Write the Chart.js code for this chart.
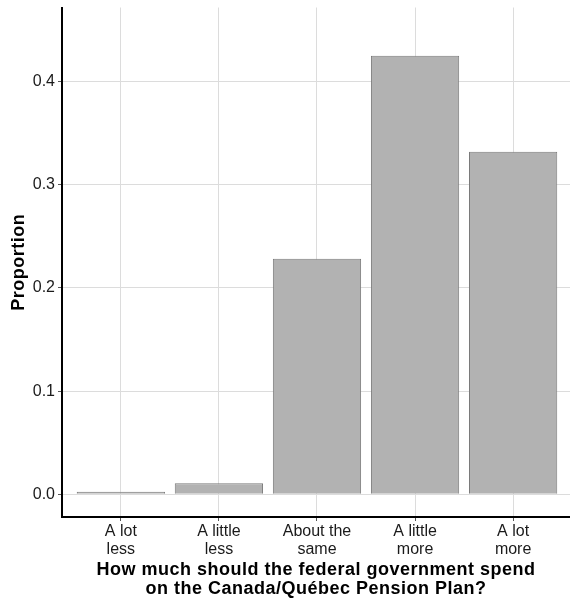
<!DOCTYPE html>
<html>
<head>
<meta charset="utf-8">
<script src="https://cdn.jsdelivr.net/npm/chart.js@4/dist/chart.umd.min.js"></script>
<style>
html,body{margin:0;padding:0;background:#fff;}
#wrap{width:570px;height:603px;position:relative;}
</style>
</head>
<body>
<div id="wrap"><canvas id="c" width="570" height="603"></canvas></div>
<script>
const categories = [["A lot","less"],["A little","less"],["About the","same"],["A little","more"],["A lot","more"]];
const proportions = [0.0025, 0.0107, 0.2284, 0.4252, 0.3321];
const yTicks = [0.0, 0.1, 0.2, 0.3, 0.4];
const xTitle = ["How much should the federal government spend","on the Canada/Québec Pension Plan?"];
const yTitle = "Proportion";

const FONT = "'Liberation Sans', Arial, Helvetica, sans-serif";
const points = proportions.map((v,i)=>({x:i,y:v}));

// widen axis-title text slightly (letter spacing) to match the reference rendering
const titleSpacing = {
  id: 'titleSpacing',
  beforeDraw(chart) {
    Object.values(chart.scales).forEach(s => {
      if (s._patchedTitle) return;
      const orig = s.drawTitle;
      s.drawTitle = function() {
        const ctx = this.ctx;
        ctx.save();
        try { ctx.letterSpacing = '0.5px'; } catch(e) {}
        orig.apply(this, arguments);
        ctx.restore();
      };
      s._patchedTitle = true;
    });
  }
};

new Chart(document.getElementById('c'), {
  type: 'bar',
  data: {
    datasets: [{
      data: points,
      backgroundColor: '#b2b2b2',
      borderColor: '#7a7a7a',
      borderWidth: 1,
      barPercentage: 0.9,
      categoryPercentage: 1.0
    }]
  },
  plugins: [titleSpacing],
  options: {
    responsive: false,
    animation: false,
    devicePixelRatio: 1,
    layout: { padding: { left: 0, right: 0, top: 7.5, bottom: 0 } },
    plugins: { legend: { display: false }, tooltip: { enabled: false } },
    scales: {
      x: {
        type: 'linear',
        offset: false,
        min: -0.6,
        max: 4.58,
        afterBuildTicks: s => { s.ticks = categories.map((c,i)=>({value:i})); },
        afterFit: s => { s.height = 86; s.paddingLeft = 0; s.paddingRight = 0; },
        ticks: {
          callback: (v) => categories[v],
          color: '#1a1a1a',
          font: { family: FONT, size: 16, lineHeight: 1.1 },
          padding: 2,
          maxRotation: 0,
          autoSkip: false
        },
        grid: { offset: false, color: '#dcdcdc', lineWidth: 1, tickLength: 4, tickColor: '#555555', drawTicks: true },
        border: { display: true, color: '#000', width: 2 },
        title: {
          display: true,
          text: xTitle,
          color: '#000',
          font: { family: FONT, size: 18, weight: 'bold', lineHeight: 1.07 },
          padding: { top: 0, bottom: 4.5 }
        }
      },
      y: {
        type: 'linear',
        min: -0.022,
        max: 0.4719,
        afterBuildTicks: s => { s.ticks = yTicks.map(v=>({value:v})); },
        afterFit: s => { s.width = 62; s.paddingTop = 0; s.paddingBottom = 0; },
        ticks: {
          callback: (v) => Number(v).toFixed(1),
          color: '#1a1a1a',
          font: { family: FONT, size: 16 },
          padding: 3
        },
        grid: { color: '#dcdcdc', lineWidth: 1, tickLength: 4, tickColor: '#555555', drawTicks: true },
        border: { display: true, color: '#000', width: 2 },
        title: {
          display: true,
          text: yTitle,
          color: '#000',
          font: { family: FONT, size: 18, weight: 'bold', lineHeight: 1.07 },
          padding: { top: 9, bottom: 0 }
        }
      }
    }
  }
});
</script>
</body>
</html>
